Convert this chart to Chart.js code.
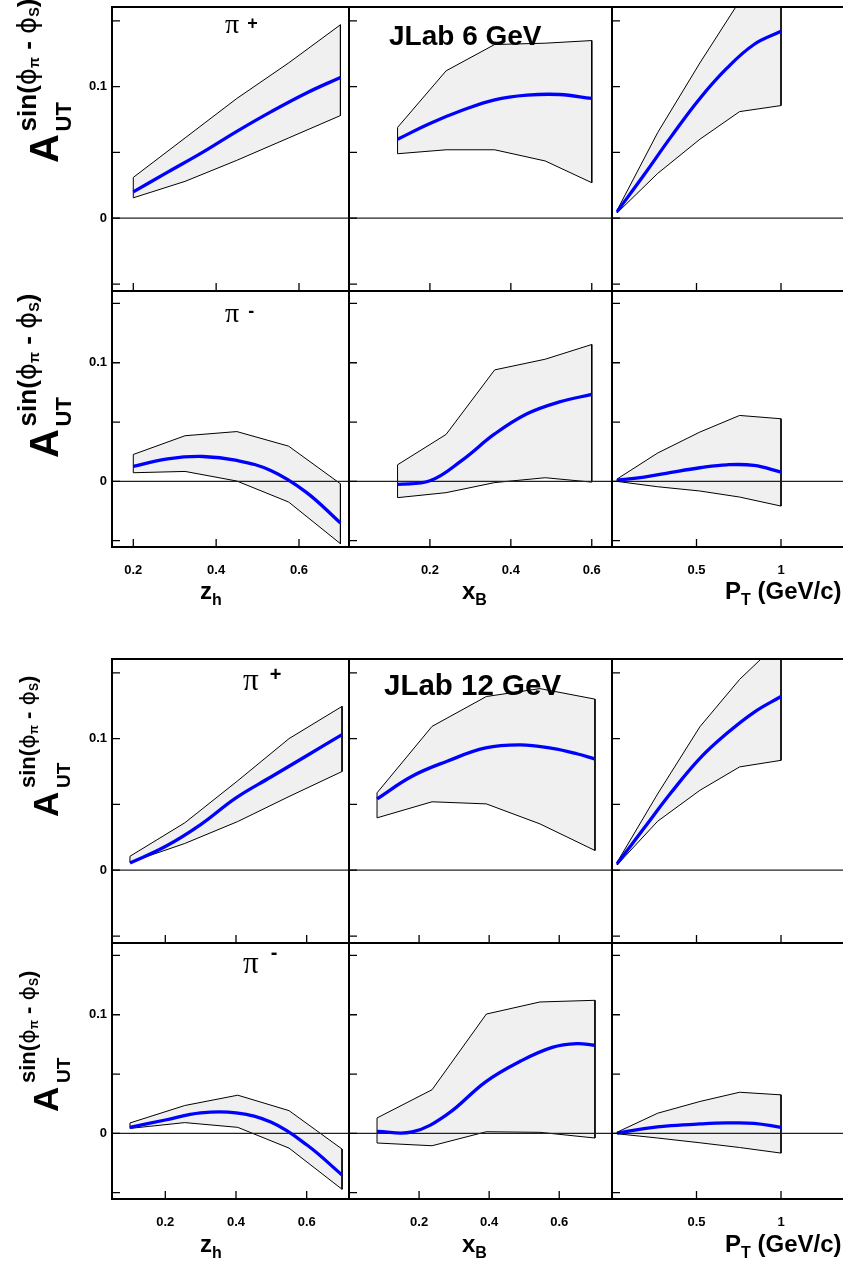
<!DOCTYPE html>
<html>
<head>
<meta charset="utf-8">
<script src="https://cdn.jsdelivr.net/npm/chart.js@4.4.0/dist/chart.umd.min.js"></script>
<style>
  html, body { margin: 0; padding: 0; background: #fff; overflow: hidden; }
  body { width: 843px; height: 1267px; position: relative; font-family: "Liberation Sans", Arial, sans-serif; color: #000; }
  canvas { position: absolute; }
  .t { position: absolute; white-space: nowrap; line-height: 1; font-weight: bold; }
  .xs { font-size: 16px; position: relative; top: 6px; }
  .pi { font-family: "Liberation Serif", "DejaVu Serif", serif; font-weight: normal; }
  .chg { position: relative; font-weight: bold; }
  .ytitle { position: absolute; left: 0; transform: rotate(-90deg); transform-origin: 0 0; }
  .ytitle span.p { position: absolute; white-space: nowrap; line-height: 1; font-weight: bold; }
  .ph { font-family: "DejaVu Sans", sans-serif; font-weight: normal; }
  .ss { font-size: 0.55em; position: relative; top: 0.2em; }
</style>
</head>
<body>
<script>
// ---- x positions of the uncertainty band vertices ----
const zBand6 = [0.2, 0.325, 0.45, 0.575, 0.7];
const xbBand6 = [0.12, 0.24, 0.36, 0.485, 0.6];
const zBand12 = [0.1, 0.255, 0.405, 0.55, 0.7];
const xbBand12 = [0.08, 0.237, 0.392, 0.545, 0.702];
const ptBand = [0.03, 0.27, 0.52, 0.755, 1.0];

// ---- x positions where the central curve is read ----
const zFit6 = [0.2, 0.283, 0.367, 0.45, 0.533, 0.617, 0.7];
const xbFit6 = [0.12, 0.2, 0.28, 0.36, 0.44, 0.52, 0.6];
const zFit12 = [0.1, 0.2, 0.3, 0.4, 0.5, 0.6, 0.7];
const xbFit12 = [0.08, 0.18, 0.28, 0.39, 0.49, 0.58, 0.65, 0.7];
const ptFit = [0.03, 0.19, 0.35, 0.52, 0.68, 0.84, 1.0];

// ---- JLab 6 GeV, pi+ ----
const pipZ6Up = [0.031, 0.061, 0.091, 0.118, 0.147];
const pipZ6Lo = [0.0155, 0.028, 0.044, 0.061, 0.078];
const pipZ6Fit = [0.020, 0.035, 0.050, 0.066, 0.081, 0.095, 0.107];
const pipXb6Up = [0.069, 0.112, 0.132, 0.133, 0.135];
const pipXb6Lo = [0.049, 0.052, 0.052, 0.0435, 0.027];
const pipXb6Fit = [0.060, 0.072, 0.082, 0.090, 0.0935, 0.094, 0.091];
const pipPt6Up = [0.006, 0.065, 0.118, 0.165, 0.2];
const pipPt6Lo = [0.004, 0.034, 0.060, 0.081, 0.0856];
const pipPt6Fit = [0.005, 0.033, 0.062, 0.091, 0.114, 0.132, 0.142];

// ---- JLab 6 GeV, pi- ----
const pimZ6Up = [0.0227, 0.0385, 0.042, 0.0297, -0.002];
const pimZ6Lo = [0.0073, 0.0084, 0.0003, -0.0174, -0.0525];
const pimZ6Fit = [0.0126, 0.019, 0.021, 0.0177, 0.009, -0.009, -0.035];
const pimXb6Up = [0.014, 0.0396, 0.094, 0.103, 0.1154];
const pimXb6Lo = [-0.0137, -0.0095, -0.001, 0.0031, -0.0006];
const pimXb6Fit = [-0.0025, 0.0005, 0.018, 0.040, 0.057, 0.067, 0.0733];
const pimPt6Up = [0.002, 0.0239, 0.0416, 0.0556, 0.0528];
const pimPt6Lo = [0.0, -0.0045, -0.0081, -0.0132, -0.0208];
const pimPt6Fit = [0.001, 0.0036, 0.0076, 0.0115, 0.014, 0.0135, 0.0079];

// ---- JLab 12 GeV, pi+ ----
const pipZ12Up = [0.0106, 0.036, 0.068, 0.100, 0.1245];
const pipZ12Lo = [0.006, 0.0203, 0.037, 0.056, 0.075];
const pipZ12Fit = [0.0055, 0.018, 0.0347, 0.055, 0.071, 0.087, 0.103];
const pipXb12Up = [0.0588, 0.1093, 0.132, 0.138, 0.130];
const pipXb12Lo = [0.0398, 0.052, 0.0504, 0.0352, 0.015];
const pipXb12Fit = [0.0542, 0.0714, 0.0828, 0.0929, 0.0952, 0.0925, 0.0885, 0.0846];
const pipPt12Up = [0.006, 0.058, 0.109, 0.145, 0.175];
const pipPt12Lo = [0.004, 0.0372, 0.0607, 0.0785, 0.0835];
const pipPt12Fit = [0.005, 0.032, 0.059, 0.085, 0.104, 0.120, 0.132];

// ---- JLab 12 GeV, pi- ----
const pimZ12Up = [0.0088, 0.0235, 0.0322, 0.0192, -0.0132];
const pimZ12Lo = [0.0042, 0.0091, 0.0051, -0.0124, -0.0471];
const pimZ12Fit = [0.005, 0.0113, 0.0173, 0.0173, 0.0093, -0.0096, -0.035];
const pimXb12Up = [0.013, 0.0368, 0.1006, 0.1108, 0.1122];
const pimXb12Lo = [-0.0081, -0.0104, 0.0014, 0.0009, -0.0039];
const pimXb12Fit = [0.0017, 0.0012, 0.016, 0.0435, 0.061, 0.0725, 0.0757, 0.0743];
const pimPt12Up = [0.001, 0.017, 0.0269, 0.0347, 0.0325];
const pimPt12Lo = [-0.0003, -0.0039, -0.0079, -0.0119, -0.0166];
const pimPt12Fit = [0.0003, 0.004, 0.0065, 0.008, 0.0088, 0.0085, 0.0051];

// ---- axes ----
const yRange = [-0.0553, 0.1605];
const yTicks = [-0.05, 0, 0.05, 0.1, 0.15];
const yTickLabels = ["", "0", "", "0.1", ""];
const xRanges6 = [[0.1486, 0.7207], [0, 0.65], [0, 1.3846]];
const xRanges12 = [[0.0492, 0.7197], [0, 0.7506], [0, 1.3846]];
const xTicks = [[0.2, 0.4, 0.6], [0.2, 0.4, 0.6], [0.5, 1]];
const xTickLabels = [["0.2", "0.4", "0.6"], ["0.2", "0.4", "0.6"], ["0.5", "1"]];

// panel layout in page pixels
const colEdges = [112, 349, 612, 846];
const rowEdges = [[7, 291, 547], [659, 943, 1199]];

const panels = [
  { b: 0, r: 0, c: 0, bx: zBand6, up: pipZ6Up, lo: pipZ6Lo, fx: zFit6, fit: pipZ6Fit },
  { b: 0, r: 0, c: 1, bx: xbBand6, up: pipXb6Up, lo: pipXb6Lo, fx: xbFit6, fit: pipXb6Fit },
  { b: 0, r: 0, c: 2, bx: ptBand, up: pipPt6Up, lo: pipPt6Lo, fx: ptFit, fit: pipPt6Fit },
  { b: 0, r: 1, c: 0, bx: zBand6, up: pimZ6Up, lo: pimZ6Lo, fx: zFit6, fit: pimZ6Fit },
  { b: 0, r: 1, c: 1, bx: xbBand6, up: pimXb6Up, lo: pimXb6Lo, fx: xbFit6, fit: pimXb6Fit },
  { b: 0, r: 1, c: 2, bx: ptBand, up: pimPt6Up, lo: pimPt6Lo, fx: ptFit, fit: pimPt6Fit },
  { b: 1, r: 0, c: 0, bx: zBand12, up: pipZ12Up, lo: pipZ12Lo, fx: zFit12, fit: pipZ12Fit },
  { b: 1, r: 0, c: 1, bx: xbBand12, up: pipXb12Up, lo: pipXb12Lo, fx: xbFit12, fit: pipXb12Fit },
  { b: 1, r: 0, c: 2, bx: ptBand, up: pipPt12Up, lo: pipPt12Lo, fx: ptFit, fit: pipPt12Fit },
  { b: 1, r: 1, c: 0, bx: zBand12, up: pimZ12Up, lo: pimZ12Lo, fx: zFit12, fit: pimZ12Fit },
  { b: 1, r: 1, c: 1, bx: xbBand12, up: pimXb12Up, lo: pimXb12Lo, fx: xbFit12, fit: pimXb12Fit },
  { b: 1, r: 1, c: 2, bx: ptBand, up: pimPt12Up, lo: pimPt12Lo, fx: ptFit, fit: pimPt12Fit },
];

// frame, inward ticks, zero line and tick labels
const panelDecor = {
  id: "panelDecor",
  afterDatasetDraw(chart, args, opts) {
    // zero line goes over the band but under the curve
    if (args.index !== 0) return;
    const { ctx, chartArea } = chart;
    const y0 = chart.scales.y.getPixelForValue(0);
    ctx.save();
    ctx.strokeStyle = "#222";
    ctx.lineWidth = 1.2;
    ctx.beginPath();
    ctx.moveTo(chartArea.left, y0);
    ctx.lineTo(chartArea.right, y0);
    ctx.stroke();
    ctx.restore();
  },
  afterDatasetsDraw(chart, args, opts) {
    const { ctx, chartArea } = chart;
    const xs = chart.scales.x, ys = chart.scales.y;
    ctx.save();
    ctx.strokeStyle = "#000";
    ctx.lineWidth = 1.3;
    ctx.beginPath();
    yTicks.forEach((v) => {
      const py = ys.getPixelForValue(v);
      ctx.moveTo(chartArea.left, py);
      ctx.lineTo(chartArea.left + 8, py);
    });
    opts.xTicks.forEach((v) => {
      const px = xs.getPixelForValue(v);
      ctx.moveTo(px, chartArea.bottom);
      ctx.lineTo(px, chartArea.bottom - 8);
    });
    ctx.stroke();
    ctx.lineWidth = 2;
    ctx.strokeRect(chartArea.left, chartArea.top, chartArea.right - chartArea.left, chartArea.bottom - chartArea.top);
    ctx.restore();
  },
  afterDraw(chart, args, opts) {
    const { ctx, chartArea } = chart;
    ctx.save();
    ctx.fillStyle = "#000";
    ctx.font = 'bold 13px "Liberation Sans", Arial, sans-serif';
    ctx.textBaseline = "middle";
    if (opts.yLabels) {
      ctx.textAlign = "right";
      yTicks.forEach((v, i) => {
        if (yTickLabels[i]) ctx.fillText(yTickLabels[i], chartArea.left - 5, chart.scales.y.getPixelForValue(v));
      });
    }
    if (opts.xLabels) {
      ctx.textAlign = "center";
      opts.xTicks.forEach((v, i) => {
        ctx.fillText(opts.xLabels[i], chart.scales.x.getPixelForValue(v), chartArea.bottom + 23);
      });
    }
    ctx.restore();
  },
};

panels.forEach((p) => {
  const m = 3;
  const x0 = colEdges[p.c], x1 = colEdges[p.c + 1];
  const y0 = rowEdges[p.b][p.r], y1 = rowEdges[p.b][p.r + 1];
  const padL = p.c === 0 ? x0 : m;
  const padB = p.r === 1 ? 42 : m;
  const left = x0 - padL, top = y0 - m;
  const w = x1 + m - left, h = y1 + padB - top;

  const cv = document.createElement("canvas");
  cv.width = w; cv.height = h;
  cv.style.left = left + "px"; cv.style.top = top + "px";
  cv.style.width = w + "px"; cv.style.height = h + "px";
  document.body.appendChild(cv);

  // closed band outline: upper edge, then lower edge back
  const band = p.bx.map((x, i) => ({ x, y: p.up[i] }));
  for (let i = p.bx.length - 1; i >= 0; i--) band.push({ x: p.bx[i], y: p.lo[i] });
  band.push({ x: p.bx[0], y: p.up[0] });
  const curve = p.fx.map((x, i) => ({ x, y: p.fit[i] }));

  const xr = (p.b === 0 ? xRanges6 : xRanges12)[p.c];

  new Chart(cv, {
    type: "line",
    data: {
      datasets: [
        { data: band, order: 2, borderColor: "#000", borderWidth: 1, backgroundColor: "#f0f0f0", fill: "shape", tension: 0, pointRadius: 0 },
        { data: curve, order: 1, borderColor: "#0000ff", borderWidth: 3.3, fill: false, tension: 0.4, pointRadius: 0 },
      ],
    },
    options: {
      responsive: false,
      animation: false,
      events: [],
      layout: { padding: { left: padL, top: m, right: m, bottom: padB } },
      scales: {
        x: { type: "linear", display: false, min: xr[0], max: xr[1] },
        y: { type: "linear", display: false, min: yRange[0], max: yRange[1] },
      },
      plugins: {
        legend: { display: false },
        tooltip: { enabled: false },
        panelDecor: {
          xTicks: xTicks[p.c],
          yLabels: p.c === 0,
          xLabels: p.r === 1 ? xTickLabels[p.c] : null,
        },
      },
    },
    plugins: [panelDecor],
  });
});

// ---- text ----
function addText(html, left, baseline, size) {
  const el = document.createElement("div");
  el.className = "t";
  el.style.left = left + "px";
  el.style.top = baseline - 0.85 * size + "px";
  el.style.fontSize = size + "px";
  el.innerHTML = html;
  document.body.appendChild(el);
}

function addCharge(sign, left, baseline, size, raise, gap) {
  const el = document.createElement("div");
  el.className = "t";
  el.style.left = left + "px";
  el.style.top = baseline - 0.84 * size + "px";
  el.style.fontSize = size + "px";
  el.innerHTML = '<span class="pi">π</span><span class="chg" style="font-size:' +
    Math.round(size * 0.63) + "px;top:-" + raise + "px;margin-left:" + gap + 'px">' + sign + "</span>";
  document.body.appendChild(el);
}

function span(html, u, base, fs) {
  return '<span class="p" style="left:' + u + "px;top:" + (base - 0.8465 * fs) + "px;font-size:" + fs + 'px">' + html + "</span>";
}

function yTitle(edge, s) {
  const d = document.createElement("div");
  d.className = "ytitle";
  d.style.top = edge + "px";
  d.innerHTML =
    span("A", 0, 58, s.a) +
    span("UT", s.u, s.subBase, s.sub) +
    span('sin(<span class="ph">ϕ</span><span class="ss">π</span> - <span class="ph">ϕ</span><span class="ss">S</span>)', s.u, 36, s.sup);
  document.body.appendChild(d);
}

const title6 = { a: 40, sub: 22, sup: 26, u: 31.6, subBase: 72 };
const title12 = { a: 35, sub: 19, sup: 22, u: 29, subBase: 70 };
yTitle(163.3, title6);
yTitle(458.3, title6);
yTitle(816.7, title12);
yTitle(1111.7, title12);

addCharge("+", 225, 34, 28, 4, 8);
addCharge("-", 225, 322.5, 28, 5, 9);
addCharge("+", 243, 690.5, 31, 9, 11);
addCharge("-", 243, 973.5, 31, 14, 12);

addText("JLab 6 GeV", 389, 46, 28);
addText("JLab 12 GeV", 384, 695, 29.5);

[599, 1252].forEach((base) => {
  addText('z<span class="xs">h</span>', 200, base, 24);
  addText('x<span class="xs">B</span>', 462, base, 24);
  addText('P<span class="xs">T</span> (GeV/c)', 725, base, 24);
});
</script>
</body>
</html>
